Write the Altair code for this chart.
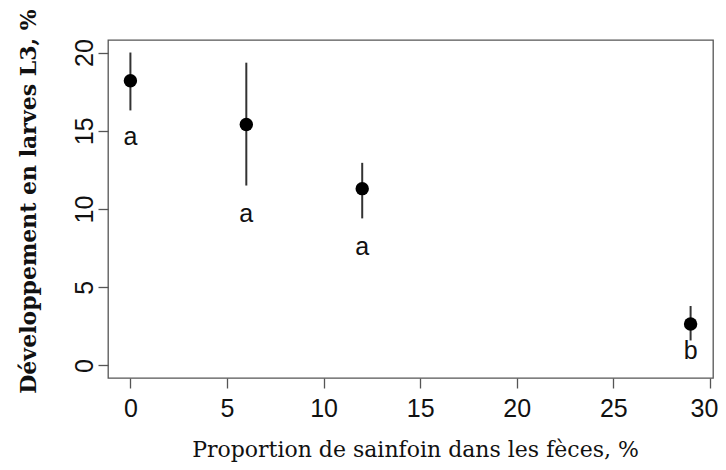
import altair as alt
import pandas as pd

sainfoin = [0, 6, 12, 29]
dev_mean = [18.2, 15.4, 11.3, 2.65]
dev_low = [16.3, 11.5, 9.4, 1.6]
dev_high = [20.0, 19.35, 12.95, 3.8]
letters = ["a", "a", "a", "b"]
letter_y = [14.6, 9.7, 7.6, 0.95]

df = pd.DataFrame({
    "x": sainfoin, "mean": dev_mean, "lo": dev_low, "hi": dev_high,
    "letter": letters, "ly": letter_y,
})

xscale = alt.Scale(domain=[-1.16, 30.16], nice=False, zero=False)
yscale = alt.Scale(domain=[-0.8, 20.8], nice=False, zero=False)

xaxis = alt.Axis(
    title="Proportion de sainfoin dans les fèces, %",
    values=[0, 5, 10, 15, 20, 25, 30], grid=False, domain=False,
    tickColor="#555", tickSize=10, tickWidth=1.3,
    labelFont="Liberation Sans", labelFontSize=25, labelColor="#111",
    labelPadding=8,
    labelOffset={"condition": {"test": "datum.value == 30", "value": -6}, "value": 0},
    titleFont="DejaVu Serif", titleFontSize=22,
    titleFontWeight="normal", titleColor="#111", titlePadding=18,
    titleX=307,
)
yaxis = alt.Axis(
    title="Développement en larves L3, %",
    values=[0, 5, 10, 15, 20], grid=False, domain=False,
    tickColor="#555", tickSize=10, tickWidth=1.3,
    labelFont="Liberation Sans", labelFontSize=25, labelColor="#111",
    labelAngle=270, labelAlign="center", labelBaseline="bottom",
    labelPadding=1, titleFont="DejaVu Serif", titleFontSize=22,
    titleFontWeight="bold", titleColor="#111", titlePadding=32,
    titleY=161,
)

base = alt.Chart(df)

bars = base.mark_rule(color="#333", strokeWidth=2).encode(
    x=alt.X("x:Q", scale=xscale, axis=xaxis),
    y=alt.Y("lo:Q", scale=yscale, axis=yaxis),
    y2="hi:Q",
)
points = base.mark_point(filled=True, color="black", opacity=1, size=180).encode(
    x=alt.X("x:Q", scale=xscale),
    y=alt.Y("mean:Q", scale=yscale),
)
labels = base.mark_text(font="Liberation Sans", fontSize=25, color="#111").encode(
    x=alt.X("x:Q", scale=xscale),
    y=alt.Y("ly:Q", scale=yscale),
    text="letter:N",
)

chart = alt.layer(bars, points, labels).properties(
    width=605, height=338,
    autosize=alt.AutoSizeParams(type="none"),
    padding={"left": 100, "top": 32, "right": 5, "bottom": 84},
).configure_view(stroke="#555", strokeWidth=1.3)

chart.save("out.html", embed_options={"renderer": "svg", "actions": False})
